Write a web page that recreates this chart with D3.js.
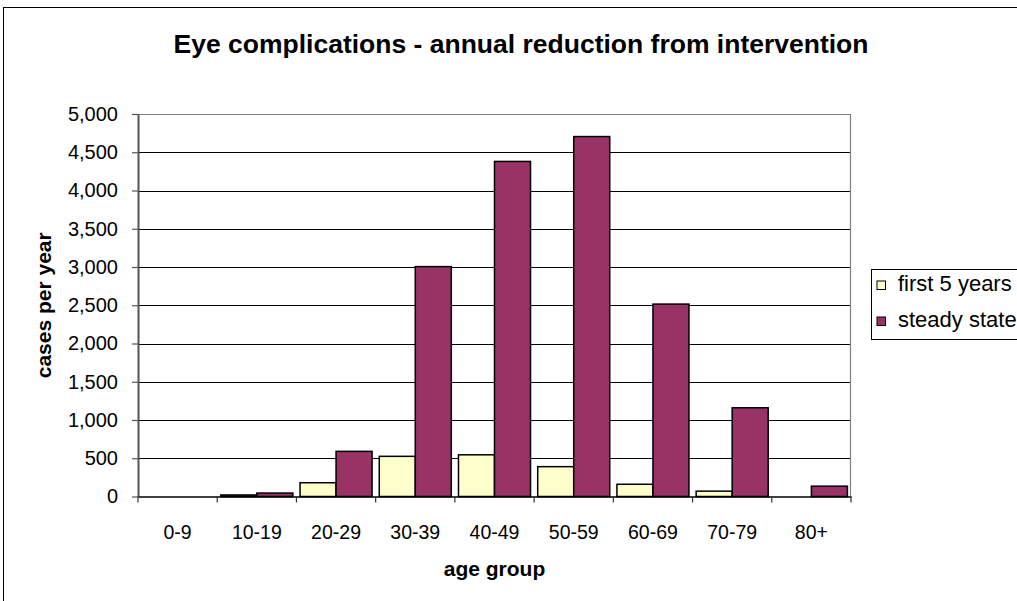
<!DOCTYPE html>
<html>
<head>
<meta charset="utf-8">
<script src="https://cdn.jsdelivr.net/npm/d3@7"></script>
<style>
  html, body { margin: 0; padding: 0; background: #fff; overflow: hidden; }
  svg { display: block; font-family: "Liberation Sans", Arial, sans-serif; }
</style>
</head>
<body>
<svg id="chart" width="1017" height="601"></svg>
<script>
// Age groups on the x axis
const categories = ["0-9", "10-19", "20-29", "30-39", "40-49", "50-59", "60-69", "70-79", "80+"];
// Annual reduction in cases, per age group
const firstFiveYears = [0, 20, 180, 525, 545, 390, 160, 70, 0];
const steadyState = [0, 45, 590, 3005, 4380, 4705, 2515, 1160, 135];
const seriesNames = ["first 5 years", "steady state"];
const seriesColors = ["#FFFFCC", "#993366"];
const yTicks = [0, 500, 1000, 1500, 2000, 2500, 3000, 3500, 4000, 4500, 5000];

const series = [firstFiveYears, steadyState];

const svg = d3.select("#chart");
const W = 1017, H = 601;
const plot = { left: 138, right: 851, top: 114, bottom: 496.5 };

// Outer chart frame
svg.append("rect")
  .attr("x", 3.5).attr("y", 7.5)
  .attr("width", W + 20).attr("height", H + 20)
  .attr("fill", "#fff").attr("stroke", "#000").attr("stroke-width", 1);

const x0 = d3.scaleBand().domain(categories).range([plot.left, plot.right]).padding(0);
const x1 = d3.scaleBand().domain(d3.range(series.length)).range([0, x0.bandwidth()])
  .paddingInner(0).paddingOuter(0.1);
const y = d3.scaleLinear().domain([0, 5000]).range([plot.bottom, plot.top]);

// Horizontal gridlines
svg.append("g")
  .selectAll("line")
  .data(yTicks.filter(d => d > 0 && d < 5000))
  .join("line")
  .attr("x1", plot.left).attr("x2", plot.right)
  .attr("y1", d => Math.round(y(d)) + 0.5).attr("y2", d => Math.round(y(d)) + 0.5)
  .attr("stroke", "#000").attr("stroke-width", 1);

// Plot area border (top and right)
svg.append("path")
  .attr("d", `M${plot.left},${Math.round(plot.top) + 0.5}H${plot.right - 0.5}V${plot.bottom}`)
  .attr("fill", "none").attr("stroke", "#808080").attr("stroke-width", 1.2);

// Bars
const groups = svg.append("g")
  .selectAll("g")
  .data(categories)
  .join("g")
  .attr("transform", d => `translate(${x0(d)},0)`);

groups.selectAll("rect")
  .data((d, i) => series.map((s, k) => ({ k, v: s[i] })))
  .join("rect")
  .filter(d => d.v > 0)
  .attr("x", d => x1(d.k))
  .attr("width", x1.bandwidth())
  .attr("y", d => y(d.v))
  .attr("height", d => y(0) - y(d.v))
  .attr("fill", d => seriesColors[d.k])
  .attr("stroke", "#000").attr("stroke-width", 1.5);

// Y axis
const yAxis = d3.axisLeft(y)
  .tickValues(yTicks)
  .tickFormat(d3.format(","))
  .tickSizeInner(6).tickSizeOuter(0).tickPadding(14);
const yg = svg.append("g").attr("transform", `translate(${plot.left},0)`).call(yAxis);
yg.select(".domain").attr("stroke", "#555").attr("stroke-width", 2);
yg.selectAll(".tick line").attr("stroke", "#555").attr("stroke-width", 1.2);
yg.selectAll(".tick text").attr("font-size", 20).attr("fill", "#000")
  .attr("font-family", "Liberation Sans, Arial, sans-serif");

// X axis
const xAxis = d3.axisBottom(x0).tickSize(0).tickPadding(0);
const xg = svg.append("g").attr("transform", `translate(0,${plot.bottom})`).call(xAxis);
xg.select(".domain").attr("stroke", "#000").attr("stroke-width", 1.5);
xg.selectAll(".tick text").attr("font-size", 19.5).attr("fill", "#000")
  .attr("y", 42).attr("dy", 0)
  .attr("font-family", "Liberation Sans, Arial, sans-serif");
// Category boundary tick marks
xg.append("g").selectAll("line")
  .data(categories.concat(["end"]))
  .join("line")
  .attr("x1", (d, i) => plot.left + i * x0.step())
  .attr("x2", (d, i) => plot.left + i * x0.step())
  .attr("y1", 0).attr("y2", 6)
  .attr("stroke", "#333").attr("stroke-width", 1.2);

// Title
svg.append("text")
  .attr("x", 521).attr("y", 53)
  .attr("text-anchor", "middle")
  .attr("font-size", 26.5).attr("font-weight", "bold")
  .text("Eye complications - annual reduction from intervention");

// Axis titles
svg.append("text")
  .attr("x", (plot.left + plot.right) / 2).attr("y", 576)
  .attr("text-anchor", "middle")
  .attr("font-size", 21).attr("font-weight", "bold")
  .text("age group");

svg.append("text")
  .attr("transform", `translate(51,${(plot.top + plot.bottom) / 2}) rotate(-90)`)
  .attr("text-anchor", "middle")
  .attr("font-size", 21).attr("font-weight", "bold")
  .text("cases per year");

// Legend
const legend = svg.append("g");
legend.append("rect")
  .attr("x", 871.5).attr("y", 269.5)
  .attr("width", 200).attr("height", 70)
  .attr("fill", "#fff").attr("stroke", "#000").attr("stroke-width", 1);
const items = legend.selectAll("g.item")
  .data(seriesNames)
  .join("g")
  .attr("class", "item")
  .attr("transform", (d, i) => `translate(877,${281 + i * 36})`);
items.append("rect")
  .attr("width", 8.5).attr("height", 8.5)
  .attr("fill", (d, i) => seriesColors[i])
  .attr("stroke", "#000").attr("stroke-width", 1);
items.append("text")
  .attr("x", 21).attr("y", 10)
  .attr("font-size", 22)
  .text(d => d);
</script>
</body>
</html>
